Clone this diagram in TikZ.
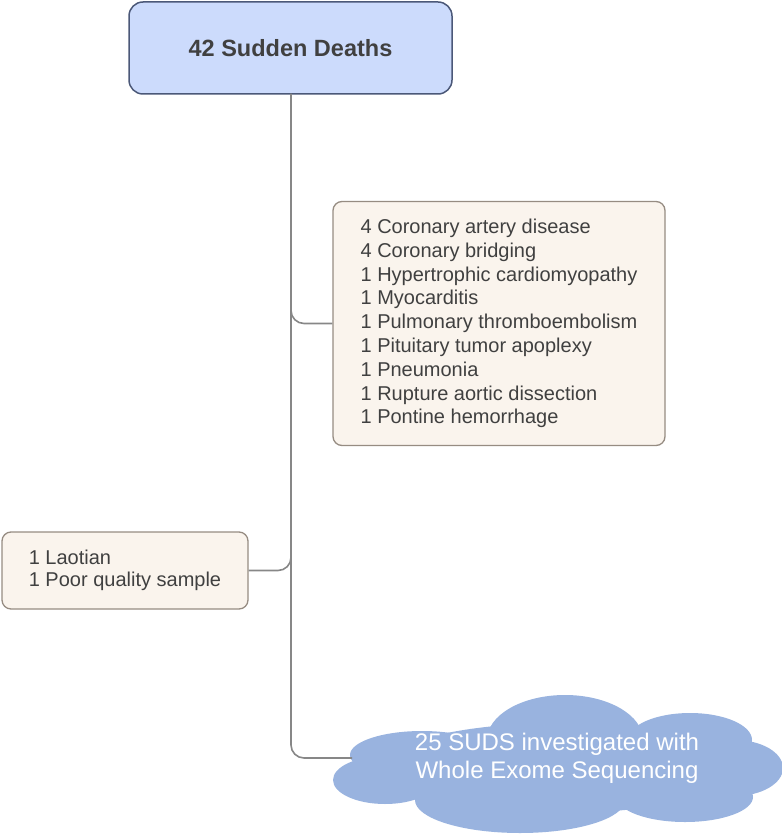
\documentclass[tikz,border=0pt]{standalone}
\usepackage{fontspec}
\setmainfont{Liberation Sans}
\definecolor{topfill}{RGB}{204,219,252}
\definecolor{topborder}{RGB}{75,88,120}
\definecolor{boxfill}{RGB}{250,244,237}
\definecolor{boxborder}{RGB}{150,140,130}
\definecolor{linegray}{RGB}{135,135,135}
\definecolor{cloudfill}{RGB}{153,179,223}
\definecolor{txt}{RGB}{64,64,64}
\begin{document}
\begin{tikzpicture}[x=1pt,y=-1pt,
  topbox/.style={draw=topborder, fill=topfill, line width=1.5pt, rounded corners=14pt,
    minimum width=323pt, minimum height=92pt, inner sep=0pt,
    font=\fontsize{23.5}{28}\selectfont\bfseries, text=txt},
  listbox/.style={draw=boxborder, fill=boxfill, line width=1.3pt, rounded corners=9pt,
    inner sep=0pt, align=left, text=txt},
  conn/.style={draw=linegray, line width=1.6pt, rounded corners=13pt},
  cloudtext/.style={text=white, align=center, inner sep=0pt, font=\fontsize{24}{28}\selectfont}]
\useasboundingbox (0,0) rectangle (781,834);
\node[topbox] (top) at (290.5,48) {42 Sudden Deaths};
\node[listbox, minimum width=332pt, minimum height=244pt, font=\fontsize{20}{23.8}\selectfont] (causes) at (499,323.5)
  {4 Coronary artery disease\\4 Coronary bridging\\1 Hypertrophic cardiomyopathy\\1 Myocarditis\\1 Pulmonary thromboembolism\\1 Pituitary tumor apoplexy\\1 Pneumonia\\1 Rupture aortic dissection\\1 Pontine hemorrhage};
\node[listbox, minimum width=246pt, minimum height=77pt, font=\fontsize{20}{22}\selectfont] (excl) at (125,570.5)
  {1 Laotian\\1 Poor quality sample};
% cloud
\fill[cloudfill] (565,740) ellipse [x radius=78, y radius=45];
\fill[cloudfill] (422,755) ellipse [x radius=72, y radius=24];
\fill[cloudfill] (385,780) ellipse [x radius=52, y radius=24];
\fill[cloudfill] (520,800) ellipse [x radius=105, y radius=33];
\fill[cloudfill] (685,797) ellipse [x radius=68, y radius=25];
\fill[cloudfill] (735,768) ellipse [x radius=48, y radius=28];
\fill[cloudfill] (690,740) ellipse [x radius=62, y radius=27];
\fill[cloudfill] (560,768) ellipse [x radius=180, y radius=45];
\node[cloudtext] (cloud) at (557,758) {25 SUDS investigated with\\Whole Exome Sequencing};
% connectors
\coordinate (trunk) at (291,94);
\coordinate (cloudin) at (352,758);
\draw[conn] (trunk) |- (causes.west);
\draw[conn] (trunk) |- (excl.east);
\draw[conn] (trunk) |- (cloudin);
\end{tikzpicture}
\end{document}
